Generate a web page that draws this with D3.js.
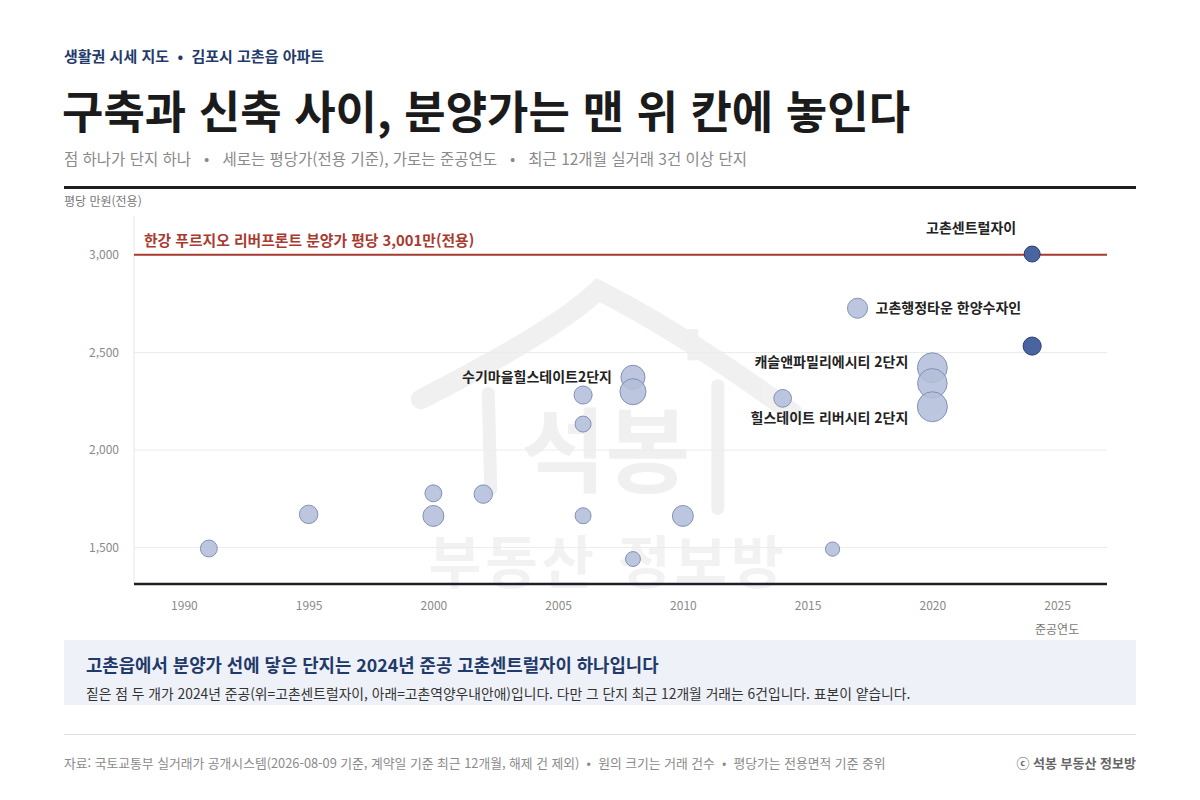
<!DOCTYPE html>
<html lang="ko">
<head>
<meta charset="utf-8">
<script src="https://cdn.jsdelivr.net/npm/d3@7"></script>
<style>
  html, body { margin: 0; padding: 0; background: #ffffff; }
  svg { display: block; font-family: "Noto Sans CJK KR", "Noto Sans", sans-serif; }
</style>
</head>
<body>
<svg id="chart" width="1200" height="800"></svg>
<script>
// ---- data ----
const years   = [1991, 1995, 2000, 2000, 2002, 2006, 2006, 2006, 2008, 2008, 2008, 2010, 2014, 2016, 2017, 2020, 2020, 2020, 2024, 2024];
const prices  = [1495, 1670, 1778, 1662, 1774, 2282, 2133, 1663, 2373, 2299, 1441, 1662, 2265, 1492, 2727, 2422, 2342, 2222, 3005, 2533];
const deals   = [8, 12, 8, 20, 12, 11, 6, 6, 33, 43, 4, 20, 10, 3, 17, 66, 64, 67, 6, 11];
const names   = ["", "", "", "", "", "", "", "", "수기마을힐스테이트2단지", "", "", "", "", "", "고촌행정타운 한양수자인", "캐슬앤파밀리에시티 2단지", "", "힐스테이트 리버시티 2단지", "고촌센트럴자이", "고촌역양우내안애"];
const highlight = [false,false,false,false,false,false,false,false,false,false,false,false,false,false,false,false,false,false,true,true];
const xTicks  = [1990, 1995, 2000, 2005, 2010, 2015, 2020, 2025];
const yTicks  = [1500, 2000, 2500, 3000];
const presalePrice = 3001;
const presaleLabel = "한강 푸르지오 리버프론트 분양가 평당 3,001만(전용)";

const kicker   = "생활권 시세 지도  •  김포시 고촌읍 아파트";
const title    = "구축과 신축 사이, 분양가는 맨 위 칸에 놓인다";
const subtitle = "점 하나가 단지 하나   •   세로는 평당가(전용 기준), 가로는 준공연도   •   최근 12개월 실거래 3건 이상 단지";
const yTitle   = "평당 만원(전용)";
const xTitle   = "준공연도";
const noteTitle = "고촌읍에서 분양가 선에 닿은 단지는 2024년 준공 고촌센트럴자이 하나입니다";
const noteBody  = "짙은 점 두 개가 2024년 준공(위=고촌센트럴자이, 아래=고촌역양우내안애)입니다. 다만 그 단지 최근 12개월 거래는 6건입니다. 표본이 얕습니다.";
const source    = "자료: 국토교통부 실거래가 공개시스템(2026-08-09 기준, 계약일 기준 최근 12개월, 해제 건 제외)  •  원의 크기는 거래 건수  •  평당가는 전용면적 기준 중위";
const credit    = "ⓒ 석봉 부동산 정보방";

// ---- layout ----
const svg = d3.select("#chart");
const L = 134, R = 1107, T = 216, B = 584;

const x = d3.scaleLinear().domain([1988, 2027]).range([L, R]);
const y = d3.scaleLinear().domain([1313, 3200]).range([B, T]);
const r = d3.scaleSqrt().domain([0, d3.max(deals)]).range([5, 15]);

const pts = years.map((yr, i) => ({yr, p: prices[i], n: deals[i], name: names[i], hi: highlight[i]}));

// header
svg.append("text").attr("x", 64).attr("y", 62).attr("xml:space", "preserve")
  .attr("font-size", 15).attr("font-weight", 700).attr("fill", "#1f3a6b").text(kicker);
svg.append("text").attr("x", 62).attr("y", 129)
  .attr("font-size", 45).attr("font-weight", 700).attr("fill", "#1b1b1b").text(title);
svg.append("text").attr("x", 64).attr("y", 165)
  .attr("font-size", 15.5).attr("fill", "#8a8a8a").attr("xml:space", "preserve").text(subtitle);
svg.append("rect").attr("x", 64).attr("y", 186).attr("width", 1072).attr("height", 3).attr("fill", "#1e1e24");

svg.append("text").attr("x", 64).attr("y", 206)
  .attr("font-size", 12).attr("fill", "#777").text(yTitle);

// watermark
const wm = svg.append("g").attr("opacity", 0.9);
wm.append("path")
  .attr("d", `M${x(1999.5)},${y(2260)} Q${x(2005)},${y(2620)} ${x(2006.6)},${y(2820)} Q${x(2010)},${y(2600)} ${x(2014.4)},${y(2190)}`)
  .attr("fill", "none").attr("stroke", "#efefef").attr("stroke-width", 20).attr("stroke-linecap", "round");
wm.append("path")
  .attr("d", `M${x(2002.2)},${y(2290)} L${x(2002.3)},${y(1800)}`)
  .attr("fill", "none").attr("stroke", "#efefef").attr("stroke-width", 13).attr("stroke-linecap", "round");
wm.append("path")
  .attr("d", `M${x(2011.4)},${y(2330)} L${x(2011.4)},${y(1700)}`)
  .attr("fill", "none").attr("stroke", "#efefef").attr("stroke-width", 13).attr("stroke-linecap", "round");
wm.append("path")
  .attr("d", `M${x(2010.4)},${y(2620)} L${x(2010.4)},${y(2460)}`)
  .attr("fill", "none").attr("stroke", "#efefef").attr("stroke-width", 11);
wm.append("text").attr("x", x(2006.9)).attr("y", y(1820))
  .attr("text-anchor", "middle").attr("font-size", 92).attr("font-weight", 700)
  .attr("fill", "#efefef").text("석봉");
wm.append("text").attr("x", x(2007)).attr("y", y(1318))
  .attr("text-anchor", "middle").attr("font-size", 57).attr("font-weight", 700)
  .attr("fill", "#f1f1f1").attr("letter-spacing", 4).text("부동산 정보방");

// grid
svg.append("g").selectAll("line").data(yTicks).join("line")
  .attr("x1", L).attr("x2", R).attr("y1", d => y(d)).attr("y2", d => y(d))
  .attr("stroke", "#ececec").attr("stroke-width", 1);
svg.append("line").attr("x1", L).attr("x2", L).attr("y1", T).attr("y2", B)
  .attr("stroke", "#e6e6e6").attr("stroke-width", 1);

// y axis labels
const yAxis = svg.append("g").attr("transform", `translate(${L - 12},0)`)
  .call(d3.axisLeft(y).tickValues(yTicks).tickSize(0).tickFormat(d3.format(",")));
yAxis.select(".domain").remove();
yAxis.selectAll("text").attr("font-size", 12).attr("fill", "#8a8a8a")
  .attr("font-family", "'Noto Sans CJK KR', sans-serif");

// x axis
const xAxis = svg.append("g").attr("transform", `translate(0,${B})`)
  .call(d3.axisBottom(x).tickValues(xTicks).tickSize(0).tickPadding(17).tickFormat(d3.format("d")));
xAxis.select(".domain").remove();
xAxis.selectAll("text").attr("font-size", 12).attr("fill", "#8a8a8a")
  .attr("font-family", "'Noto Sans CJK KR', sans-serif");
svg.append("line").attr("x1", L).attr("x2", R).attr("y1", B).attr("y2", B)
  .attr("stroke", "#1e1e24").attr("stroke-width", 2.5);
svg.append("text").attr("x", x(2025)).attr("y", 634).attr("text-anchor", "middle")
  .attr("font-size", 12).attr("fill", "#777").text(xTitle);

// presale line
svg.append("line").attr("x1", L).attr("x2", R)
  .attr("y1", y(presalePrice)).attr("y2", y(presalePrice))
  .attr("stroke", "#a93a30").attr("stroke-width", 2);
svg.append("text").attr("x", L + 10).attr("y", y(presalePrice) - 9)
  .attr("font-size", 14.8).attr("font-weight", 700).attr("fill", "#a93a30").text(presaleLabel);

// points
svg.append("g").selectAll("circle").data(pts).join("circle")
  .attr("cx", d => x(d.yr)).attr("cy", d => y(d.p)).attr("r", d => r(d.n))
  .attr("fill", d => d.hi ? "#4a64a0" : "#b3bed9")
  .attr("fill-opacity", d => d.hi ? 1 : 0.88)
  .attr("stroke", d => d.hi ? "#2b3f72" : "#8391b9")
  .attr("stroke-width", 1);

// point labels
const lab = svg.append("g").attr("font-size", 14).attr("font-weight", 700).attr("fill", "#222");
const byName = n => pts.find(d => d.name === n);
let d0 = byName("고촌센트럴자이");
lab.append("text").attr("x", x(d0.yr) - 61).attr("y", y(d0.p) - 21).attr("text-anchor", "middle").text(d0.name);
d0 = byName("고촌행정타운 한양수자인");
lab.append("text").attr("x", x(d0.yr) + r(d0.n) + 8).attr("y", y(d0.p) + 5).text(d0.name);
d0 = byName("캐슬앤파밀리에시티 2단지");
lab.append("text").attr("x", x(d0.yr) - 24).attr("y", y(d0.p) - 1).attr("text-anchor", "end").text(d0.name);
d0 = byName("힐스테이트 리버시티 2단지");
lab.append("text").attr("x", x(d0.yr) - 24).attr("y", y(d0.p) + 16).attr("text-anchor", "end").text(d0.name);
d0 = byName("수기마을힐스테이트2단지");
lab.append("text").attr("x", x(d0.yr) - 21).attr("y", y(d0.p) + 5).attr("text-anchor", "end").text(d0.name);

// note box
svg.append("rect").attr("x", 64).attr("y", 640).attr("width", 1072).attr("height", 65).attr("fill", "#eef1f7");
svg.append("text").attr("x", 86).attr("y", 672)
  .attr("font-size", 17.8).attr("font-weight", 700).attr("fill", "#1f3a6b").text(noteTitle);
svg.append("text").attr("x", 86).attr("y", 699)
  .attr("font-size", 13.8).attr("fill", "#333").text(noteBody);

// footer
svg.append("line").attr("x1", 64).attr("x2", 1136).attr("y1", 734.5).attr("y2", 734.5)
  .attr("stroke", "#e2e2e2").attr("stroke-width", 1);
svg.append("text").attr("x", 64).attr("y", 768)
  .attr("font-size", 12.8).attr("fill", "#8a8a8a").attr("xml:space", "preserve").text(source);
svg.append("text").attr("x", 1136).attr("y", 768).attr("text-anchor", "end")
  .attr("font-size", 13).attr("font-weight", 700).attr("fill", "#666").text(credit);
</script>
</body>
</html>
